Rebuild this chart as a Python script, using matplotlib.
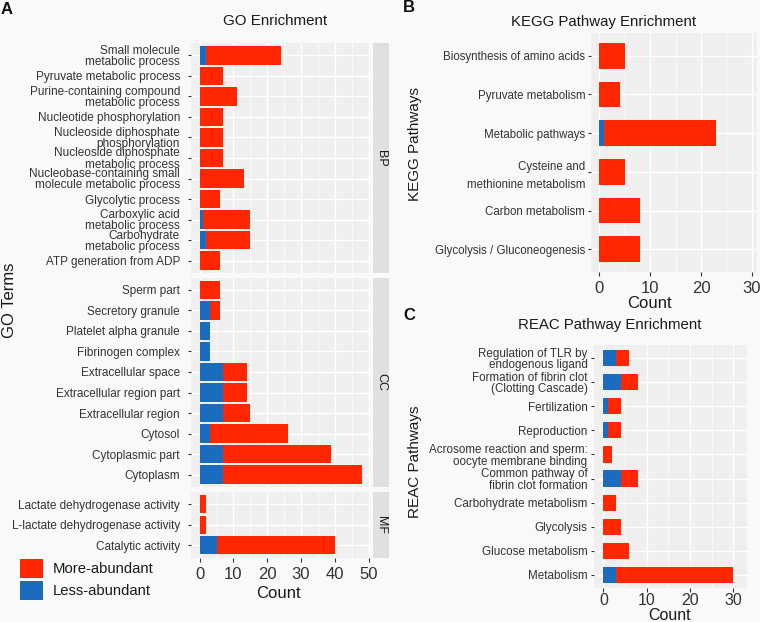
import matplotlib
matplotlib.use("Agg")
import matplotlib.pyplot as plt
from matplotlib.patches import Patch
import numpy as np

plt.rcParams['font.family'] = ['Liberation Sans', 'DejaVu Sans']

# ---------------- data ----------------
bp_terms = ["Small molecule\nmetabolic process", "Pyruvate metabolic process",
            "Purine-containing compound\nmetabolic process", "Nucleotide phosphorylation",
            "Nucleoside diphosphate\nphosphorylation", "Nucleoside diphosphate\nmetabolic process",
            "Nucleobase-containing small\nmolecule metabolic process", "Glycolytic process",
            "Carboxylic acid\nmetabolic process", "Carbohydrate\nmetabolic process",
            "ATP generation from ADP"]
bp_less = [2, 0, 0, 0, 0, 0, 0, 0, 1, 2, 0]
bp_more = [22, 7, 11, 7, 7, 7, 13, 6, 14, 13, 6]

cc_terms = ["Sperm part", "Secretory granule", "Platelet alpha granule", "Fibrinogen complex",
            "Extracellular space", "Extracellular region part", "Extracellular region",
            "Cytosol", "Cytoplasmic part", "Cytoplasm"]
cc_less = [0, 3, 3, 3, 7, 7, 7, 3, 7, 7]
cc_more = [6, 3, 0, 0, 7, 7, 8, 23, 32, 41]

mf_terms = ["Lactate dehydrogenase activity", "L-lactate dehydrogenase activity",
            "Catalytic activity"]
mf_less = [0, 0, 5]
mf_more = [2, 2, 35]

kegg_terms = ["Biosynthesis of amino acids", "Pyruvate metabolism", "Metabolic pathways",
              "Cysteine and\nmethionine metabolism", "Carbon metabolism",
              "Glycolysis / Gluconeogenesis"]
kegg_less = [0, 0, 1, 0, 0, 0]
kegg_more = [5, 4, 22, 5, 8, 8]

reac_terms = ["Regulation of TLR by\nendogenous ligand", "Formation of fibrin clot\n(Clotting Cascade)",
              "Fertilization", "Reproduction",
              "Acrosome reaction and sperm:\noocyte membrane binding",
              "Common pathway of\nfibrin clot formation", "Carbohydrate metabolism",
              "Glycolysis", "Glucose metabolism", "Metabolism"]
reac_less = [3, 4, 1, 1, 0, 4, 0, 0, 0, 3]
reac_more = [3, 4, 3, 3, 2, 4, 3, 4, 6, 27]

legend_labels = ["More-abundant", "Less-abundant"]

# ---------------- style ----------------
RED = "#FF2600"
BLUE = "#1B6BBE"
BG = "#F9F9F9"
PANEL = "#EFEFEF"
STRIP = "#E0E0E0"
TXT = "#333333"

W, H = 760, 622
fig = plt.figure(figsize=(W / 100, H / 100), dpi=100, facecolor=BG)


def ax_px(x0, y0, x1, y1):
    return fig.add_axes([x0 / W, 1 - y1 / H, (x1 - x0) / W, (y1 - y0) / H])


def draw_panel(ax, terms, less, more, xlim, ylpad, barh, lab_fs, lab_pad,
               xticks, show_x, ls=1.0, xfs=12, xpad=3.5):
    n = len(terms)
    y = np.arange(n)
    ax.set_facecolor(PANEL)
    for s in ax.spines.values():
        s.set_visible(False)
    ax.barh(y, less, height=barh, color=BLUE, linewidth=0, zorder=3)
    ax.barh(y, more, left=less, height=barh, color=RED, linewidth=0, zorder=3)
    ax.set_xlim(*xlim)
    ax.set_ylim(n - 1 + ylpad, -ylpad)
    ax.set_yticks(y)
    ax.set_yticklabels(terms, fontsize=lab_fs, color=TXT, linespacing=ls)
    ax.set_xticks(xticks)
    ax.set_xticks([(a + b) / 2 for a, b in zip(xticks[:-1], xticks[1:])], minor=True)
    ax.grid(True, which='major', color='white', linewidth=1.0, zorder=0)
    ax.grid(True, which='minor', axis='x', color='white', linewidth=0.5, zorder=0)
    ax.set_axisbelow(True)
    ax.tick_params(axis='y', length=2, width=0.8, color=TXT, pad=lab_pad)
    ax.tick_params(axis='x', which='minor', length=0)
    if show_x:
        ax.tick_params(axis='x', which='major', length=3, width=0.8, color=TXT,
                       labelsize=xfs, labelcolor=TXT, pad=xpad)
    else:
        ax.tick_params(axis='x', which='major', length=0, labelbottom=False)


def strip(y0, y1, label):
    sa = ax_px(373, y0, 389, y1)
    sa.set_facecolor(STRIP)
    sa.set_xticks([]); sa.set_yticks([])
    for s in sa.spines.values():
        s.set_visible(False)
    sa.text(0.5, 0.5, label, rotation=-90, ha='center', va='center',
            fontsize=9, color="#1A1A1A", transform=sa.transAxes)


go_x = (-2.4, 50.4)
go_ticks = [0, 10, 20, 30, 40, 50]
GO_FS = 8.5
GO_LS = 0.9

ax_bp = ax_px(191.5, 43, 370, 273)
draw_panel(ax_bp, bp_terms, bp_less, bp_more, go_x, 0.6, 0.9, GO_FS, 6.3, go_ticks, False, ls=GO_LS)
strip(43, 273, "BP")

ax_cc = ax_px(191.5, 277.5, 370, 487)
draw_panel(ax_cc, cc_terms, cc_less, cc_more, go_x, 0.6, 0.9, GO_FS, 6.3, go_ticks, False, ls=GO_LS)
strip(277.5, 487, "CC")

ax_mf = ax_px(191.5, 492, 370, 557.5)
draw_panel(ax_mf, mf_terms, mf_less, mf_more, go_x, 0.6, 0.9, GO_FS, 6.3, go_ticks, True, ls=GO_LS)
strip(492, 557.5, "MF")

fig.text(275 / W, 1 - 21 / H, "GO Enrichment", ha='center', va='center',
         fontsize=10.9, color="#1A1A1A")
fig.text(278 / W, 1 - 594 / H, "Count", ha='center', va='center', fontsize=12, color="#1A1A1A")
fig.text(10 / W, 1 - 300 / H, "GO Terms", rotation=90, ha='center', va='center',
         fontsize=12, color="#1A1A1A")

# KEGG
ax_k = ax_px(591, 33, 757, 272)
draw_panel(ax_k, kegg_terms, kegg_less, kegg_more, (-1.6, 31.0), 0.59, 0.67, 8.3, 2.2,
           [0, 10, 20, 30], True, ls=1.6, xpad=3.5)
fig.text(604 / W, 1 - 22 / H, "KEGG Pathway Enrichment", ha='center', va='center',
         fontsize=10.8, color="#1A1A1A")
fig.text(649 / W, 1 - 303 / H, "Count", ha='center', va='center', fontsize=12, color="#1A1A1A")
fig.text(415 / W, 1 - 144 / H, "KEGG Pathways", rotation=90, ha='center', va='center',
         fontsize=11, color="#1A1A1A")

# REAC
ax_r = ax_px(593.5, 345, 747, 588)
draw_panel(ax_r, reac_terms, reac_less, reac_more, (-2.3, 33.2), 0.55, 0.67, 8.4, 2.4,
           [0, 10, 20, 30], True, ls=0.95, xfs=11.5, xpad=0.5)
fig.text(610 / W, 1 - 325 / H, "REAC Pathway Enrichment", ha='center', va='center',
         fontsize=10.8, color="#1A1A1A")
fig.text(670 / W, 1 - 615 / H, "Count", ha='center', va='center', fontsize=11.5, color="#1A1A1A")
fig.text(415 / W, 1 - 462 / H, "REAC Pathways", rotation=90, ha='center', va='center',
         fontsize=11, color="#1A1A1A")

# panel letters
for lab, x, yy in [("A", 7, 10), ("B", 409, 8), ("C", 409, 315)]:
    fig.text(x / W, 1 - yy / H, lab, ha='center', va='center', fontsize=12,
             fontweight='bold', color="#111111")

# legend
handles = [Patch(facecolor=RED, edgecolor='none'), Patch(facecolor=BLUE, edgecolor='none')]
fig.legend(handles, legend_labels, loc='upper left', bbox_to_anchor=(20 / W, 1 - 559 / H),
           frameon=False, fontsize=10.7, handlelength=1.55, handleheight=1.6,
           labelspacing=0.2, handletextpad=0.65, borderpad=0, borderaxespad=0,
           labelcolor="#1A1A1A")

fig.savefig("out.png", dpi=100, facecolor=BG)
